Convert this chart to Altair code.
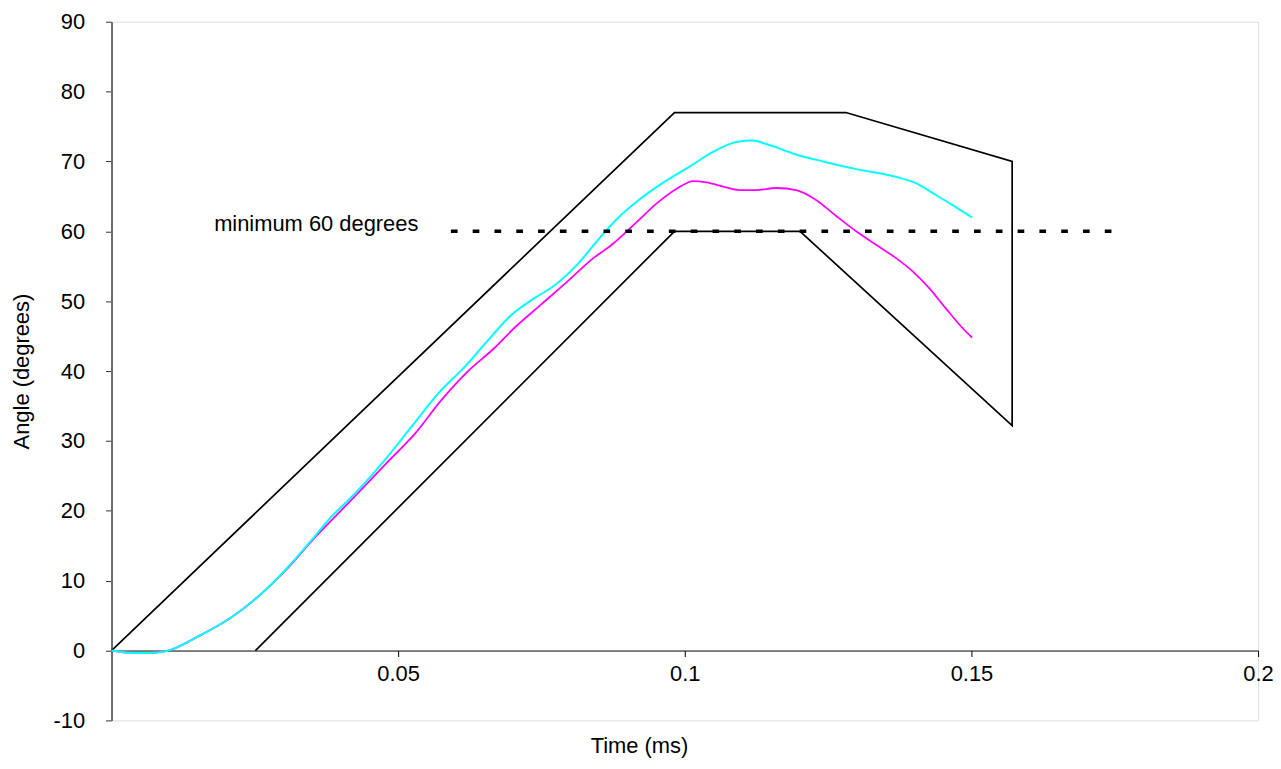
import altair as alt
import pandas as pd

# Envelope (black polygon) vertices, in drawing order
env_t = [0.0, 0.0982, 0.1281, 0.1571, 0.1571, 0.1201, 0.0982, 0.0251]
env_a = [0.0, 77.0, 77.0, 70.0, 32.2, 60.0, 60.0, 0.0]

# Cyan curve
cyan_t = [0.0, 0.003, 0.0065, 0.0095, 0.0153, 0.021, 0.0257, 0.0304, 0.035, 0.0384,
          0.0413, 0.0477, 0.0523, 0.057, 0.0616, 0.0662, 0.0697, 0.0737, 0.0772, 0.0813,
          0.0847, 0.0882, 0.0917, 0.0963, 0.1009, 0.105, 0.109, 0.1119, 0.1142, 0.1194,
          0.1241, 0.1299, 0.1368, 0.1403, 0.1438, 0.1472, 0.1501]
cyan_a = [0.0, -0.3, -0.35, -0.1, 2.1, 4.8, 7.8, 11.6, 15.9, 19.2,
          21.5, 27.3, 32.0, 36.8, 40.6, 44.9, 48.0, 50.4, 52.2, 55.3,
          58.6, 61.8, 64.3, 67.0, 69.3, 71.4, 72.8, 73.0, 72.5, 71.0,
          70.0, 68.9, 67.8, 66.9, 65.2, 63.5, 62.0]

# Magenta curve
mag_t = [0.0, 0.003, 0.0065, 0.0095, 0.0153, 0.021, 0.0257, 0.0304, 0.0355, 0.0413,
         0.0483, 0.0529, 0.0575, 0.0622, 0.0668, 0.0703, 0.0749, 0.0795, 0.0841, 0.087,
         0.0917, 0.0951, 0.0986, 0.1015, 0.1038, 0.1067, 0.1096, 0.1125, 0.116, 0.1194,
         0.1229, 0.1264, 0.1299, 0.1333, 0.1368, 0.1397, 0.1426, 0.1455, 0.1484, 0.1501]
mag_a = [0.0, -0.3, -0.35, -0.1, 2.1, 4.8, 7.8, 11.5, 16.2, 21.1,
         27.1, 31.0, 35.8, 40.0, 43.3, 46.2, 49.5, 52.8, 56.2, 57.9,
         61.4, 64.0, 66.1, 67.2, 67.0, 66.4, 65.9, 65.9, 66.2, 65.9,
         64.5, 62.2, 60.0, 58.1, 56.2, 54.3, 51.9, 49.0, 46.2, 44.8]

# Minimum threshold line
min_t = [0.0592]
min_t2 = [0.1755]
min_a = [60.0]

# Annotation
ann_t = [0.0179]
ann_a = [60.0]
ann_text = ["minimum 60 degrees"]

x_ticks = [0.0, 0.05, 0.1, 0.15, 0.2]
y_ticks = [-10, 0, 10, 20, 30, 40, 50, 60, 70, 80, 90]

FONT = "Liberation Sans"
FS = 22

env_df = pd.DataFrame({"t": env_t, "a": env_a, "seq": list(range(len(env_t)))})
cyan_df = pd.DataFrame({"t": cyan_t, "a": cyan_a})
mag_df = pd.DataFrame({"t": mag_t, "a": mag_a})
min_df = pd.DataFrame({"t": min_t, "t2": min_t2, "a": min_a})
ann_df = pd.DataFrame({"t": ann_t, "a": ann_a, "label": ann_text})

W, H = 1152, 702
zero_offset = -(H * 10.0 / 100.0)

x_axis = alt.Axis(
    values=x_ticks, format=".2~f",
    labelExpr="datum.value === 0 ? '' : datum.label",
    offset=zero_offset, grid=False,
    domainColor="black", domainWidth=1,
    tickColor="black", tickSize=6, tickWidth=1,
    labelFont=FONT, labelFontSize=FS, labelColor="black", labelPadding=7,
    labelFlush=False, labelOverlap=False,
    title="Time (ms)", titleFont=FONT, titleFontSize=FS, titleFontWeight="normal",
    titleColor="black", titleX=530, titleY=95, titleAlign="center", titleBaseline="middle",
)
y_axis = alt.Axis(
    values=y_ticks, grid=False,
    labelExpr="datum.value < 0 ? '-' + abs(datum.value) : datum.label",
    domainColor="#6e6e6e", domainWidth=2,
    tickColor="#333333", tickSize=6, tickWidth=1,
    labelFont=FONT, labelFontSize=FS, labelColor="black", labelPadding=21,
    labelFlush=False, labelOverlap=False,
    title="Angle (degrees)", titleFont=FONT, titleFontSize=FS, titleFontWeight="normal",
    titleColor="black", titleX=-90, titleY=H / 2, titleAngle=-90,
    titleAlign="center", titleBaseline="middle",
)

xs = alt.Scale(domain=[0, 0.2], nice=False, zero=False)
ys = alt.Scale(domain=[-10, 90], nice=False, zero=False)

X = alt.X("t:Q", scale=xs, axis=x_axis)
Y = alt.Y("a:Q", scale=ys, axis=y_axis)

env = alt.Chart(env_df).mark_line(color="black", strokeWidth=1.7).encode(
    x=X, y=Y, order="seq:Q")
mag = alt.Chart(mag_df).mark_line(color="#ff00ff", strokeWidth=1.8, interpolate="monotone").encode(
    x=X, y=Y)
cyan = alt.Chart(cyan_df).mark_line(color="#00ffff", strokeWidth=2.0, interpolate="monotone").encode(
    x=X, y=Y)
minline = alt.Chart(min_df).mark_rule(color="black", strokeWidth=3.5, strokeDash=[6.7, 15.2],
                                      strokeCap="butt").encode(x=X, x2="t2:Q", y=Y)
ann = alt.Chart(ann_df).mark_text(align="left", baseline="alphabetic", font=FONT, fontSize=FS,
                                  color="black").encode(x=X, y=Y, text="label:N")

chart = alt.layer(env, mag, cyan, minline, ann).properties(
    width=W, height=H,
    autosize=alt.AutoSizeParams(type="none"),
    padding={"left": 104, "top": 12, "right": 15, "bottom": 39},
).configure_view(stroke="#808080", strokeWidth=1.5).configure(background="white")

chart.save("out.html", embed_options={"renderer": "svg", "actions": False})
